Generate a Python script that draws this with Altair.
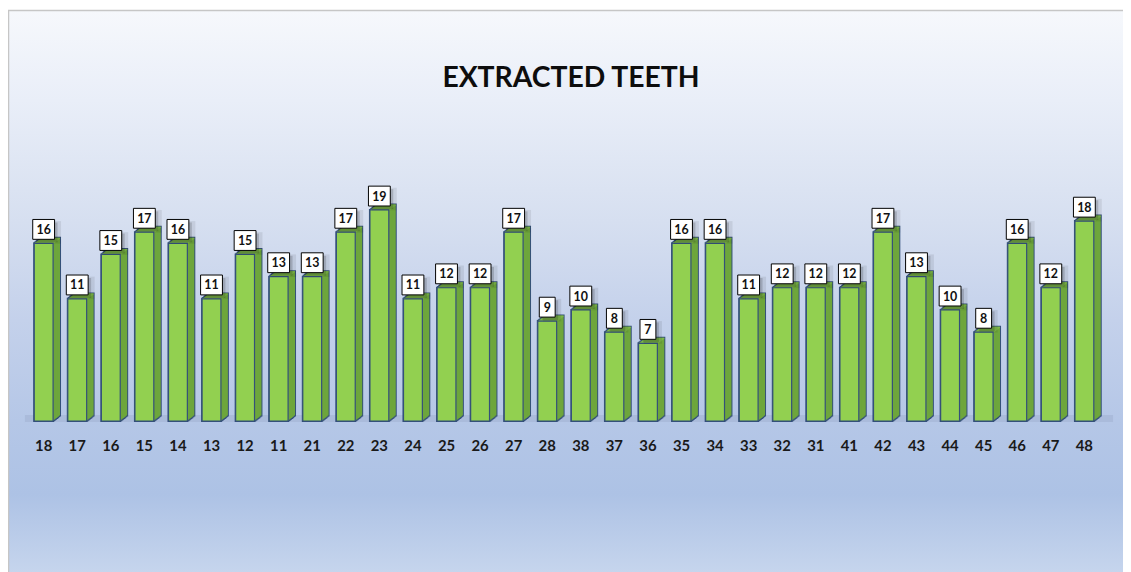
import altair as alt
import pandas as pd

# ---- data ----
teeth = ["18", "17", "16", "15", "14", "13", "12", "11", "21", "22", "23", "24", "25", "26", "27", "28",
         "38", "37", "36", "35", "34", "33", "32", "31", "41", "42", "43", "44", "45", "46", "47", "48"]
counts = [16, 11, 15, 17, 16, 11, 15, 13, 13, 17, 19, 11, 12, 12, 17, 9,
          10, 8, 7, 16, 16, 11, 12, 12, 12, 17, 13, 10, 8, 16, 12, 18]
title_text = "EXTRACTED TEETH"

df = pd.DataFrame({"tooth": teeth, "count": counts})
df["label"] = df["count"].astype(str)
df["digits"] = df["label"].str.len().astype(str)

# ---- layout ----
TOTAL_W, TOTAL_H = 1123, 564
PL, PT = 19, 100
W, H = 1082, 314
PR = TOTAL_W - PL - W
PB = TOTAL_H - PT - H
YMAX = H / 11.19

FRONT = "#92d050"
SIDE = "#6ea63c"
TOP = "#7eb84a"
OUT = "#34507a"
FONT = "Lato"

X = alt.X("tooth:N", sort=teeth, title=None,
          scale=alt.Scale(paddingInner=0.438, paddingOuter=0.219),
          axis=alt.Axis(labelAngle=0, labelFont=FONT, labelFontSize=15, labelFontWeight="bold",
                        labelColor="#1a1a1a", labelPadding=18, ticks=False, tickSize=0,
                        domain=False, grid=False, zindex=1))
Y = alt.Y("count:Q", scale=alt.Scale(domain=[0, YMAX], nice=False, zero=True), axis=None)

base = alt.Chart(df)
one = pd.DataFrame({"t": [title_text]})

gradient = {
    "gradient": "linear", "x1": 0, "y1": 0, "x2": 0, "y2": 1,
    "stops": [
        {"offset": 0.0, "color": "#f6f8fc"},
        {"offset": 0.16, "color": "#e9eef8"},
        {"offset": 0.375, "color": "#d6dff0"},
        {"offset": 0.55, "color": "#c4d1eb"},
        {"offset": 0.73, "color": "#b5c7e7"},
        {"offset": 0.86, "color": "#adc2e5"},
        {"offset": 1.0, "color": "#c6d5ed"},
    ],
}

bg = alt.Chart(one).mark_rect(
    fill=gradient, stroke="#c6c6c6", strokeWidth=1.5
).encode(
    x=alt.value(-PL + 0.5), x2=alt.value(W + PR + 3),
    y=alt.value(-PT + 0.5), y2=alt.value(H + PB + 3),
)

title = alt.Chart(one).mark_text(
    font=FONT, fontSize=28.5, fontWeight="bold", color="#0d0d0d",
    align="center", baseline="alphabetic"
).encode(x=alt.value(W / 2 + 7), y=alt.value(-22), text="t:N")

floor = alt.Chart(one).mark_rect(color="#aabbdb").encode(
    x=alt.value(-2), x2=alt.value(1094),
    y=alt.value(H - 6), y2=alt.value(H + 1),
)

layers = [bg, title, floor]

DX, DY = 7, 5.5
# outline silhouette of the prism
for i in range(DX, -1, -1):
    oy = -DY * i / DX
    layers.append(base.mark_bar(color=OUT, stroke=OUT, strokeWidth=2,
                                xOffset=i, x2Offset=i, yOffset=oy, y2Offset=oy).encode(x=X, y=Y))
# side face fill
for i in range(DX, 0, -1):
    oy = -DY * i / DX
    layers.append(base.mark_bar(color=SIDE, xOffset=i, x2Offset=i, yOffset=oy, y2Offset=oy)
                  .encode(x=X, y=Y))
# top face fill
for i in range(DX, 0, -1):
    oy = -DY * i / DX
    oy2 = -DY * (i - 1) / DX + 0.5
    layers.append(base.mark_bar(color=TOP, xOffset=i, x2Offset=i, yOffset=oy, y2Offset=oy2)
                  .encode(x=X, y=Y, y2=alt.Y2("count:Q")))
# front face
layers.append(base.mark_bar(color=FRONT, stroke=OUT, strokeWidth=1.2).encode(x=X, y=Y))

# label boxes
box_shape = alt.Shape("digits:N", legend=None,
                      scale=alt.Scale(domain=["1", "2"],
                                      range=["M-0.8,-1H0.8V1H-0.8Z", "M-1.1,-1H1.1V1H-1.1Z"]))
layers.append(base.mark_point(filled=True, color="#000000", opacity=0.08, size=520,
                              xOffset=5, yOffset=-11).encode(x=X, y=Y, shape=box_shape))
layers.append(base.mark_point(filled=True, color="#000000", opacity=0.16, size=400,
                              xOffset=3, yOffset=-11).encode(x=X, y=Y, shape=box_shape))
layers.append(base.mark_point(filled=True, fill="#ffffff", stroke="#000000", strokeWidth=1,
                              opacity=1, size=400, yOffset=-14).encode(x=X, y=Y, shape=box_shape))
layers.append(base.mark_text(font=FONT, fontSize=12.5, fontWeight="bold", color="#111111",
                             baseline="middle", yOffset=-13.5).encode(x=X, y=Y, text="label:N"))

chart = alt.layer(*layers).properties(
    width=W, height=H,
    padding={"left": PL, "top": PT, "right": PR, "bottom": PB},
    autosize=alt.AutoSizeParams(type="none"),
).configure_view(stroke=None).configure(background="#ffffff")

chart.save("out.html", embed_options={"renderer": "svg", "actions": False})
